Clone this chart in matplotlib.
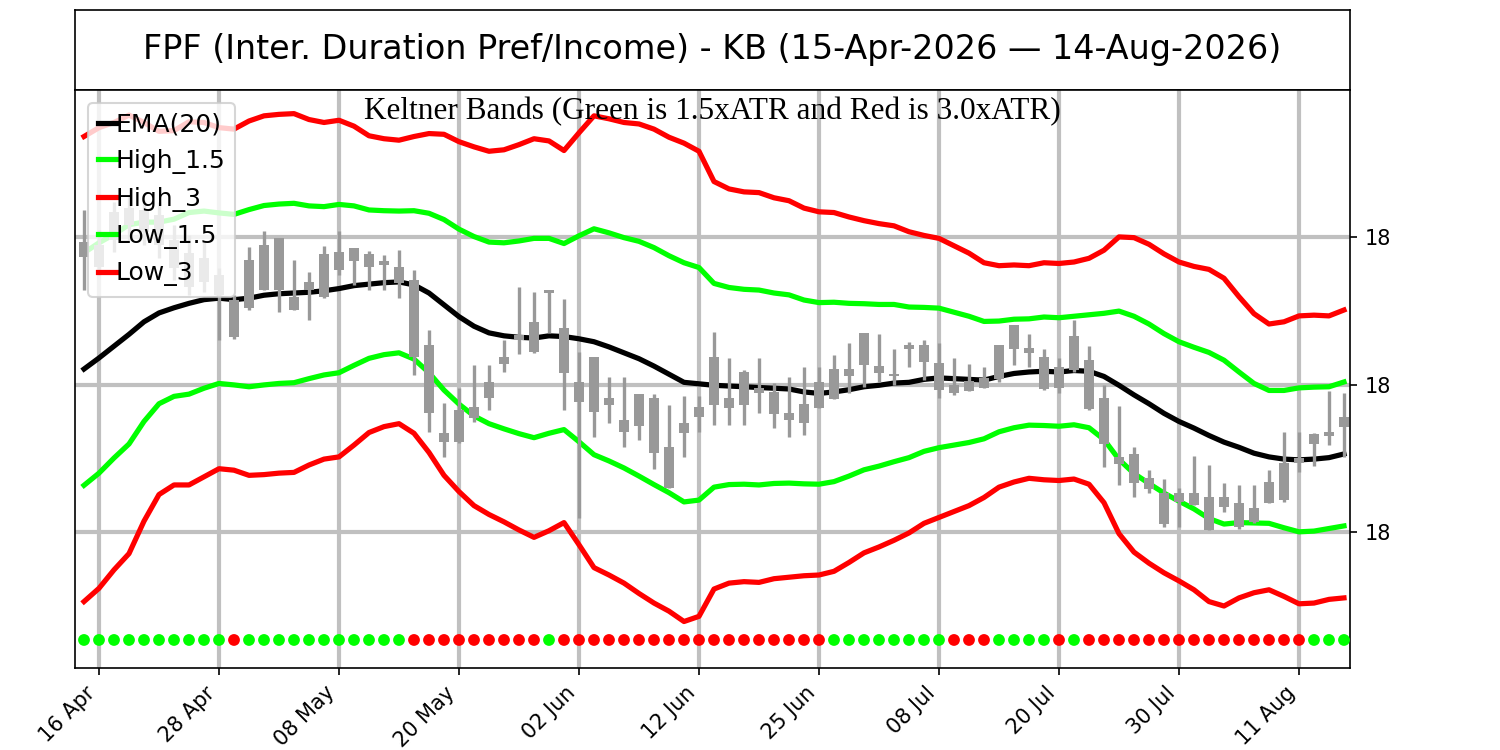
import numpy as np
import pandas as pd
import matplotlib
matplotlib.use('Agg')
import matplotlib.pyplot as plt
from matplotlib.ticker import MultipleLocator, FormatStrFormatter

#trading days 15-Apr-2026 .. 14-Aug-2026 (US market holidays removed)
holidays = ['2026-05-25', '2026-06-19', '2026-07-03']
dates = pd.bdate_range('2026-04-15', '2026-08-14', freq='C', holidays=holidays)

#daily prices
opn = [18.373, 18.359, 18.396, 18.416, 18.407, 18.389, 18.358, 18.332, 18.339, 18.321,
       18.315, 18.304, 18.328, 18.328, 18.301, 18.328, 18.319, 18.355, 18.367, 18.359,
       18.362, 18.338, 18.342, 18.254, 18.134, 18.165, 18.170, 18.203, 18.237, 18.267,
       18.285, 18.324, 18.277, 18.203, 18.237, 18.182, 18.152, 18.187, 18.182, 18.115,
       18.148, 18.170, 18.237, 18.182, 18.217, 18.195, 18.190, 18.161, 18.174, 18.203,
       18.180, 18.212, 18.226, 18.216, 18.212, 18.248, 18.231, 18.193, 18.199, 18.205,
       18.209, 18.207, 18.248, 18.243, 18.194, 18.224, 18.220, 18.233, 18.182, 18.102,
       18.106, 18.073, 18.053, 18.053, 18.053, 18.047, 18.047, 18.039, 18.033, 18.068,
       18.094, 18.100, 18.119, 18.130, 18.142]
cls = [18.393, 18.389, 18.434, 18.439, 18.437, 18.430, 18.396, 18.378, 18.372, 18.348,
       18.264, 18.369, 18.389, 18.399, 18.319, 18.339, 18.377, 18.380, 18.385, 18.377,
       18.367, 18.359, 18.237, 18.161, 18.122, 18.122, 18.155, 18.182, 18.228, 18.260,
       18.244, 18.328, 18.216, 18.176, 18.163, 18.172, 18.136, 18.144, 18.107, 18.060,
       18.134, 18.156, 18.172, 18.168, 18.172, 18.188, 18.160, 18.152, 18.148, 18.168,
       18.221, 18.221, 18.270, 18.225, 18.214, 18.254, 18.254, 18.229, 18.188, 18.191,
       18.195, 18.254, 18.281, 18.250, 18.237, 18.195, 18.266, 18.167, 18.119, 18.092,
       18.066, 18.058, 18.011, 18.041, 18.037, 18.003, 18.034, 18.007, 18.014, 18.039,
       18.043, 18.094, 18.133, 18.136, 18.156]
hi = [18.437, 18.410, 18.447, 18.457, 18.450, 18.447, 18.416, 18.403, 18.393, 18.358,
      18.321, 18.386, 18.408, 18.399, 18.369, 18.353, 18.388, 18.408, 18.385, 18.381,
      18.376, 18.382, 18.355, 18.274, 18.175, 18.195, 18.226, 18.226, 18.260, 18.332,
      18.325, 18.328, 18.316, 18.244, 18.237, 18.210, 18.210, 18.187, 18.187, 18.172,
      18.184, 18.184, 18.271, 18.236, 18.220, 18.236, 18.202, 18.210, 18.224, 18.224,
      18.240, 18.256, 18.270, 18.268, 18.248, 18.258, 18.260, 18.256, 18.236, 18.228,
      18.224, 18.254, 18.281, 18.268, 18.248, 18.236, 18.287, 18.252, 18.199, 18.171,
      18.115, 18.084, 18.072, 18.060, 18.103, 18.091, 18.066, 18.064, 18.064, 18.084,
      18.136, 18.136, 18.134, 18.191, 18.188]
lo = [18.328, 18.348, 18.380, 18.396, 18.389, 18.372, 18.342, 18.321, 18.325, 18.260,
      18.262, 18.301, 18.328, 18.298, 18.301, 18.287, 18.317, 18.348, 18.335, 18.328,
      18.328, 18.317, 18.213, 18.136, 18.102, 18.121, 18.149, 18.165, 18.217, 18.241,
      18.243, 18.270, 18.165, 18.019, 18.129, 18.148, 18.115, 18.125, 18.085, 18.060,
      18.102, 18.136, 18.145, 18.145, 18.145, 18.161, 18.141, 18.129, 18.132, 18.168,
      18.180, 18.188, 18.197, 18.203, 18.199, 18.224, 18.206, 18.182, 18.186, 18.191,
      18.195, 18.203, 18.226, 18.224, 18.193, 18.188, 18.217, 18.165, 18.088, 18.064,
      18.047, 18.053, 18.007, 18.007, 18.037, 18.003, 18.027, 18.005, 18.012, 18.039,
      18.041, 18.081, 18.090, 18.118, 18.102]

#EMA(20) and ATR as drawn
ema20 = [18.221, 18.236, 18.252, 18.268, 18.285, 18.297, 18.304, 18.310, 18.315, 18.317,
         18.315, 18.317, 18.321, 18.323, 18.324, 18.325, 18.327, 18.330, 18.334, 18.336,
         18.338, 18.339, 18.335, 18.324, 18.308, 18.292, 18.279, 18.270, 18.266, 18.264,
         18.263, 18.266, 18.265, 18.262, 18.258, 18.251, 18.243, 18.235, 18.225, 18.214,
         18.203, 18.201, 18.199, 18.198, 18.197, 18.196, 18.195, 18.194, 18.190, 18.188,
         18.190, 18.193, 18.197, 18.199, 18.202, 18.203, 18.207, 18.209, 18.208, 18.207,
         18.206, 18.211, 18.215, 18.217, 18.218, 18.217, 18.219, 18.218, 18.211, 18.199,
         18.186, 18.174, 18.161, 18.150, 18.141, 18.131, 18.122, 18.115, 18.107, 18.102,
         18.099, 18.098, 18.099, 18.101, 18.106]
atr = [0.105, 0.104, 0.101, 0.099, 0.090, 0.082, 0.080, 0.082, 0.080, 0.077,
       0.077, 0.080, 0.081, 0.081, 0.081, 0.078, 0.076, 0.076, 0.072, 0.067,
       0.065, 0.064, 0.067, 0.072, 0.077, 0.079, 0.081, 0.082, 0.084, 0.087,
       0.090, 0.088, 0.084, 0.093, 0.102, 0.103, 0.104, 0.106, 0.107, 0.107,
       0.108, 0.105, 0.092, 0.089, 0.088, 0.088, 0.086, 0.085, 0.083, 0.082,
       0.081, 0.078, 0.075, 0.073, 0.071, 0.068, 0.065, 0.063, 0.060, 0.057,
       0.053, 0.050, 0.049, 0.048, 0.049, 0.049, 0.049, 0.051, 0.057, 0.067,
       0.071, 0.072, 0.072, 0.072, 0.073, 0.075, 0.074, 0.068, 0.063, 0.060,
       0.062, 0.065, 0.065, 0.064, 0.065]

#EMA direction dots (1 = rising/green, 0 = falling/red)
trend = [1]*10 + [0] + [1]*11 + [0]*9 + [1] + [0]*18 + [1]*8 + [0]*3 + [1]*4 + [0] + [1] + [0]*15 + [1]*3

opn = np.array(opn); cls = np.array(cls); hi = np.array(hi); lo = np.array(lo)
ema20 = np.array(ema20); atr = np.array(atr)
x = np.arange(len(dates))

#keltner bands
high_15 = ema20 + 1.5 * atr
high_3 = ema20 + 3.0 * atr
low_15 = ema20 - 1.5 * atr
low_3 = ema20 - 3.0 * atr

fig = plt.figure(figsize=(10, 5), dpi=150)

#title box
tax = fig.add_axes([0.05, 0.88, 0.85, 0.1067])
tax.set_xticks([])
tax.set_yticks([])
tax.text(0.5, 0.5, 'FPF (Inter. Duration Pref/Income) - KB (15-Apr-2026 \u2014 14-Aug-2026)',
         ha='center', va='center', fontsize=16, transform=tax.transAxes)

ax = fig.add_axes([0.05, 0.1093, 0.85, 0.7707])

ax.plot(x, ema20, color='black', lw=2.5, label='EMA(20)', zorder=2)
ax.plot(x, high_15, color='lime', lw=2.5, label='High_1.5', zorder=2)
ax.plot(x, high_3, color='red', lw=2.5, label='High_3', zorder=2)
ax.plot(x, low_15, color='lime', lw=2.5, label='Low_1.5', zorder=2)
ax.plot(x, low_3, color='red', lw=2.5, label='Low_3', zorder=2)

#candles (all grey)
body_lo = np.minimum(opn, cls)
body_h = np.abs(cls - opn)
ax.vlines(x, lo, hi, color='#999999', lw=1.6, zorder=3)
ax.bar(x, body_h, bottom=body_lo, width=0.72, color='#999999', zorder=3)

#trend dots below the bands
dot_y = low_3.min() - 0.025
cols = ['lime' if t == 1 else 'red' for t in trend]
ax.scatter(x, np.full(len(x), dot_y), c=cols, s=32, linewidths=0, zorder=3)

ax.set_xlim(-0.6, 84.4)
ax.set_ylim(17.816, 18.599)

tick_pos = list(range(1, len(dates), 8))
ax.set_xticks(tick_pos)
ax.set_xticklabels([dates[i].strftime('%d %b') for i in tick_pos], rotation=45, ha='right')
ax.yaxis.tick_right()
ax.yaxis.set_major_locator(MultipleLocator(0.2))
ax.yaxis.set_major_formatter(FormatStrFormatter('%.0f'))
ax.tick_params(labelsize=10)
ax.grid(True, color='#c0c0c0', linewidth=2)

ax.text(0.5, 0.988, 'Keltner Bands (Green is 1.5xATR and Red is 3.0xATR)', transform=ax.transAxes,
        ha='center', va='top', fontsize=15, family='Liberation Serif')
ax.legend(loc='upper left', fontsize=12, handlelength=0.72, handletextpad=0.0)

plt.savefig('out.png')
